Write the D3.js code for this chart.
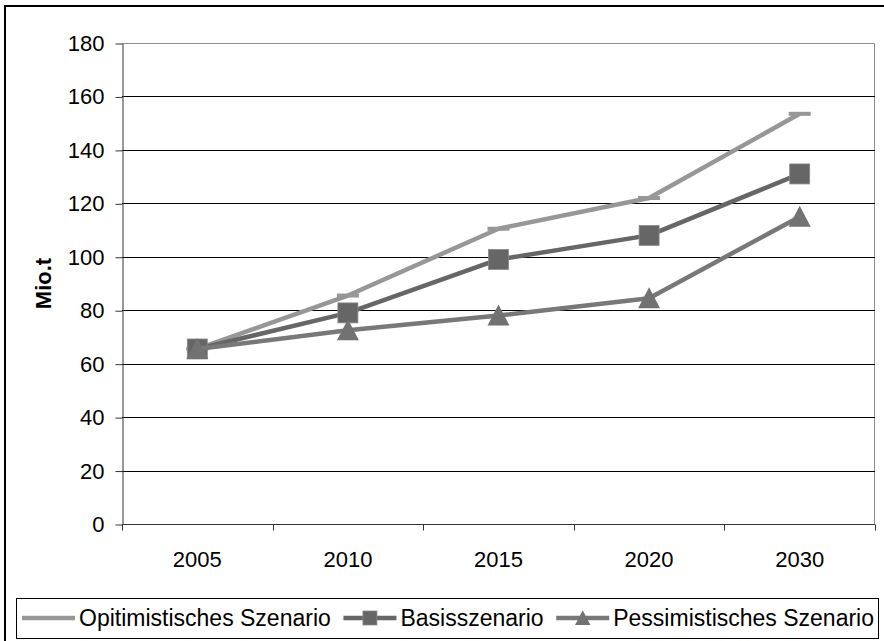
<!DOCTYPE html>
<html>
<head>
<meta charset="utf-8">
<script src="https://cdn.jsdelivr.net/npm/d3@7"></script>
<style>
  html, body { margin: 0; padding: 0; background: #fff; }
  svg { display: block; }
  text { font-family: "Liberation Sans", Arial, sans-serif; }
</style>
</head>
<body>
<svg id="chart" width="884" height="641"></svg>
<script>
// Years on the category axis
const years = ["2005", "2010", "2015", "2020", "2030"];
// Scenario values in million tonnes
const optimistic = [65.5, 85.5, 110.5, 122, 153.5];
const basis = [65.5, 79, 99, 108, 131];
const pessimistic = [65.5, 72.5, 78, 84.5, 115];
// Y axis ticks
const yTicks = [0, 20, 40, 60, 80, 100, 120, 140, 160, 180];
const seriesNames = ["Opitimistisches Szenario", "Basisszenario", "Pessimistisches Szenario"];

const series = [
  { name: seriesNames[0], values: optimistic, color: "#979797", marker: "dash", markColor: "#979797" },
  { name: seriesNames[1], values: basis, color: "#666666", marker: "square", markColor: "#666666" },
  { name: seriesNames[2], values: pessimistic, color: "#787878", marker: "triangle", markColor: "#727272" }
];

const svg = d3.select("#chart");
const plot = { left: 122, right: 875, top: 43, bottom: 524 };

// Outer chart frame
svg.append("rect")
  .attr("x", 5).attr("y", 6).attr("width", 900).attr("height", 660)
  .attr("fill", "none").attr("stroke", "#000").attr("stroke-width", 2);

const x = d3.scaleBand().domain(years).range([plot.left, plot.right]).padding(0);
const y = d3.scaleLinear().domain([0, 180]).range([plot.bottom, plot.top]);

// Plot area border (top and right)
svg.append("path")
  .attr("d", `M${plot.left},${plot.top + 0.5}H${plot.right - 0.5}V${plot.bottom}`)
  .attr("fill", "none").attr("stroke", "#8c8c8c").attr("stroke-width", 1);

// Horizontal gridlines
svg.append("g")
  .selectAll("line")
  .data(yTicks.filter(d => d > 0 && d < 180))
  .join("line")
  .attr("x1", plot.left).attr("x2", plot.right)
  .attr("y1", d => Math.round(y(d)) + 0.5).attr("y2", d => Math.round(y(d)) + 0.5)
  .attr("stroke", "#000").attr("stroke-width", 1);

// Y axis
const yAxis = svg.append("g")
  .attr("transform", `translate(${plot.left + 0.5},0.5)`)
  .call(d3.axisLeft(y).tickValues(yTicks).tickSize(7).tickPadding(11).tickSizeOuter(0));
yAxis.select(".domain").attr("stroke", "#333");
yAxis.selectAll(".tick line").attr("stroke", "#333");
yAxis.selectAll("text")
  .attr("font-size", 22).attr("fill", "#000")
  .attr("font-family", "'Liberation Sans', Arial, sans-serif");

// X axis: ticks sit between categories
const xAxisG = svg.append("g")
  .attr("transform", `translate(0,${plot.bottom + 0.5})`);
xAxisG.append("line")
  .attr("x1", plot.left).attr("x2", plot.right)
  .attr("stroke", "#333");
const bounds = years.map(d => x(d)).concat([plot.right]);
xAxisG.selectAll("line.tk")
  .data(bounds)
  .join("line").attr("class", "tk")
  .attr("x1", d => Math.round(d) + 0.5).attr("x2", d => Math.round(d) + 0.5)
  .attr("y1", 0).attr("y2", 6)
  .attr("stroke", "#333");
xAxisG.selectAll("text")
  .data(years)
  .join("text")
  .attr("x", d => x(d) + x.bandwidth() / 2)
  .attr("y", 42)
  .attr("text-anchor", "middle")
  .attr("font-size", 22)
  .text(d => d);

// Y axis title
svg.append("text")
  .attr("transform", `translate(51,${(plot.top + plot.bottom) / 2}) rotate(-90)`)
  .attr("text-anchor", "middle")
  .attr("font-size", 22)
  .attr("font-weight", "bold")
  .text("Mio.t");

const cx = d => x(d) + x.bandwidth() / 2;
const line = d3.line().x((v, i) => cx(years[i])).y(v => y(v));

function drawMarker(g, type, color, r) {
  if (type === "square") {
    g.append("rect").attr("x", -r).attr("y", -r).attr("width", 2 * r).attr("height", 2 * r)
      .attr("fill", color).attr("stroke", "#8a8a8a").attr("stroke-width", 0.8);
  } else if (type === "triangle") {
    g.append("path").attr("d", `M0,${-r * 1.1}L${r * 1.1},${r}L${-r * 1.1},${r}Z`).attr("fill", color);
  } else if (type === "dash") {
    g.append("rect").attr("x", -r * 1.1).attr("y", -2).attr("width", r * 2.2).attr("height", 4)
      .attr("fill", color);
  }
}

// Series lines and markers
series.forEach(s => {
  const g = svg.append("g");
  g.append("path")
    .attr("d", line(s.values))
    .attr("fill", "none")
    .attr("stroke", s.color)
    .attr("stroke-width", 4.5)
    .attr("stroke-linejoin", "round");
  s.values.forEach((v, i) => {
    const m = g.append("g").attr("transform", `translate(${cx(years[i])},${y(v)})`);
    drawMarker(m, s.marker, s.markColor, 10);
  });
});

// Legend
const legend = { left: 16, top: 598, right: 878, bottom: 638 };
svg.append("rect")
  .attr("x", legend.left + 0.5).attr("y", legend.top + 0.5)
  .attr("width", legend.right - legend.left).attr("height", legend.bottom - legend.top)
  .attr("fill", "#fff").attr("stroke", "#000").attr("stroke-width", 1);

const legendY = (legend.top + legend.bottom) / 2;
const sampleW = 53, textGap = 4;
const items = series.map(s => {
  const g = svg.append("g");
  g.append("line").attr("x1", 0).attr("x2", sampleW).attr("y1", 0).attr("y2", 0)
    .attr("stroke", s.color).attr("stroke-width", 4.5);
  const m = g.append("g").attr("transform", `translate(${sampleW / 2},0)`);
  if (s.marker !== "dash") drawMarker(m, s.marker, s.markColor, 7);
  const t = g.append("text").attr("x", sampleW + textGap).attr("y", 8)
    .attr("font-size", 23).text(s.name);
  return { g, w: sampleW + textGap + t.node().getComputedTextLength() };
});
// Spread the entries across the legend box
const innerL = legend.left + 6, innerR = legend.right - 4;
const total = d3.sum(items, d => d.w);
const gap = (innerR - innerL - total) / (items.length - 1);
let cur = innerL;
items.forEach(it => {
  it.g.attr("transform", `translate(${cur},${legendY})`);
  cur += it.w + gap;
});
</script>
</body>
</html>
